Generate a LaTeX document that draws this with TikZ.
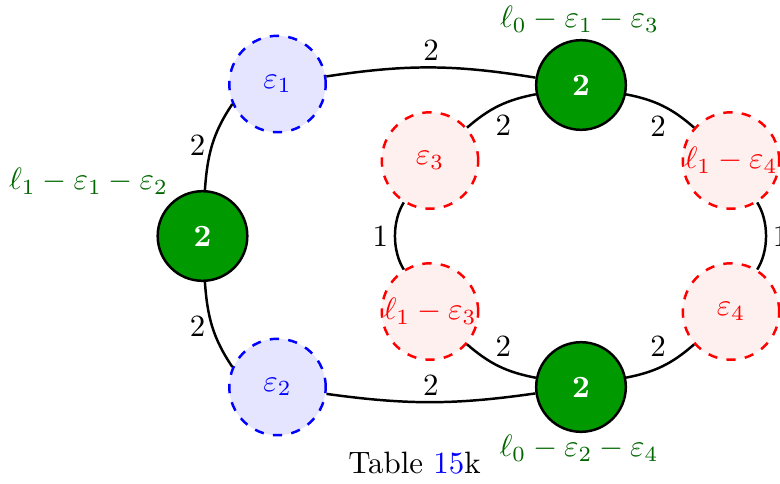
\documentclass[tikz,border=0pt]{standalone}
\usepackage{amsmath}
\begin{document}
\begin{tikzpicture}[x=0.3235pt,y=0.3235pt,
  gnode/.style={circle,draw=black,thick,fill=green!60!black,text=white,minimum size=29pt,inner sep=0pt,font=\bfseries},
  bnode/.style={circle,draw=blue,thick,dashed,fill=blue!10,text=blue,minimum size=31.2pt,inner sep=0pt},
  rnode/.style={circle,draw=red,thick,dashed,fill=red!6,text=red,minimum size=31.2pt,inner sep=0pt},
  glabel/.style={text=green!40!black},
  conn/.style={thick},
  elab/.style={inner sep=1.8pt},
  dlab/.style={inner sep=3.4pt}]
\useasboundingbox (0,0) rectangle (780,483);
\node[bnode] (e1) at (277.5,399) {$\varepsilon_1$};
\node[gnode] (gT) at (581,398) {2};
\node[rnode] (e3) at (430,322.5) {$\varepsilon_3$};
\node[rnode] (l1e4) at (731,322.5) {$\ell_1-\varepsilon_4$};
\node[gnode] (gL) at (202.5,247) {2};
\node[rnode] (l1e3) at (430,171.5) {$\ell_1-\varepsilon_3$};
\node[rnode] (e4) at (731,171.5) {$\varepsilon_4$};
\node[bnode] (e2) at (277.5,96) {$\varepsilon_2$};
\node[gnode] (gB) at (581,96) {2};

\node[glabel] (lT) at (579.5,463.5) {$\ell_0-\varepsilon_1-\varepsilon_3$};
\node[glabel] (lL) at (88.5,302) {$\ell_1-\varepsilon_1-\varepsilon_2$};
\node[glabel] (lB) at (579,35) {$\ell_0-\varepsilon_2-\varepsilon_4$};
\node (cap) at (414.5,20) {Table \textcolor{blue}{15}k};

\draw[conn] (e1) to[bend left=9] node[elab,above] {2} (gT);
\draw[conn] (gL.87) to[out=86,in=236] node[elab,left] {2} (e1.204);
\draw[conn] (gT) to[bend right=15] node[dlab,pos=0.43,below] {2} (e3);
\draw[conn] (gT) to[bend left=15] node[dlab,pos=0.43,below] {2} (l1e4);
\draw[conn] (e3) to[bend right=32,looseness=0.85] node[elab,left] {1} (l1e3);
\draw[conn] (l1e4) to[bend left=32,looseness=0.85] node[elab,right] {1} (e4);
\draw[conn] (l1e3) to[bend right=15] node[dlab,pos=0.57,above] {2} (gB);
\draw[conn] (e4) to[bend left=15] node[dlab,pos=0.57,above] {2} (gB);
\draw[conn] (e2) to[bend right=8] node[elab,above] {2} (gB);
\draw[conn] (gL.-87) to[out=-86,in=124] node[elab,left] {2} (e2.156);
\end{tikzpicture}
\end{document}
